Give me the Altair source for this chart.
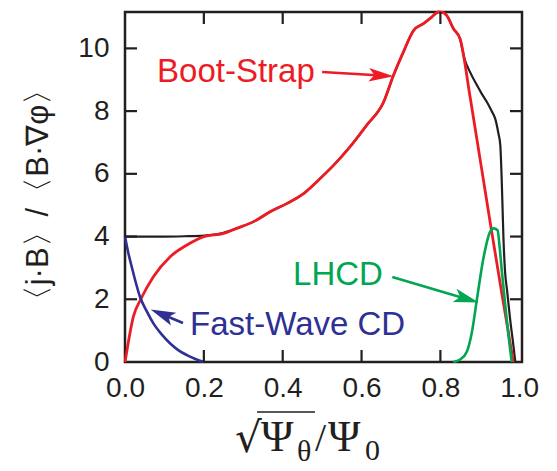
import altair as alt
import pandas as pd

# ---- data ----
total_x = [0.0, 0.05, 0.10, 0.15, 0.20, 0.25, 0.283, 0.33, 0.368, 0.41, 0.453, 0.495, 0.529, 0.57,
           0.613, 0.656, 0.681, 0.706, 0.732, 0.757, 0.778, 0.795, 0.805, 0.816, 0.833, 0.85, 0.86,
           0.875, 0.893, 0.905, 0.918, 0.93, 0.939, 0.947, 0.952, 0.955, 0.957, 0.96, 0.964, 0.969,
           0.973, 0.977, 0.984, 0.99]
total_y = [4.0, 4.0, 4.0, 4.01, 4.03, 4.12, 4.26, 4.5, 4.79, 5.05, 5.37, 5.85, 6.27, 6.85,
           7.55, 8.29, 9.14, 9.88, 10.57, 10.79, 11.0, 11.16, 11.15, 11.05, 10.63, 10.3, 9.72,
           9.25, 8.82, 8.55, 8.29, 8.0, 7.76, 7.3, 6.91, 6.0, 5.2, 3.94, 2.88, 2.3,
           1.82, 1.35, 0.65, 0.0]

boot_x = [0.0, 0.008, 0.021, 0.04, 0.072, 0.114, 0.157, 0.2, 0.25, 0.283, 0.33, 0.368, 0.41,
          0.453, 0.495, 0.529, 0.57, 0.613, 0.656, 0.681, 0.706, 0.732, 0.757, 0.778, 0.795,
          0.805, 0.816, 0.833, 0.85, 0.876, 0.926, 0.955, 0.985]
boot_y = [0.0, 0.6, 1.44, 2.0, 2.72, 3.35, 3.73, 4.0, 4.1, 4.26, 4.5, 4.79, 5.05,
          5.37, 5.85, 6.27, 6.85, 7.55, 8.29, 9.14, 9.88, 10.57, 10.79, 11.0, 11.16,
          11.15, 11.05, 10.63, 10.3, 8.4, 4.47, 2.25, 0.0]

fw_x = [0.0, 0.008, 0.017, 0.027, 0.038, 0.055, 0.072, 0.093, 0.114, 0.135, 0.157, 0.18, 0.2]
fw_y = [4.0, 3.5, 3.04, 2.55, 2.08, 1.62, 1.23, 0.88, 0.6, 0.38, 0.22, 0.09, 0.0]

lh_x = [0.833, 0.85, 0.867, 0.88, 0.893, 0.909, 0.926, 0.935, 0.945, 0.95, 0.956, 0.963, 0.969, 0.975, 0.981]
lh_y = [0.0, 0.08, 0.33, 0.96, 2.03, 3.3, 4.15, 4.26, 4.2, 3.7, 2.88, 2.0, 1.28, 0.6, 0.0]

x_tick_values = [0.0, 0.2, 0.4, 0.6, 0.8, 1.0]
y_tick_values = [0, 2, 4, 6, 8, 10]
x_inner_ticks = [0.2, 0.4, 0.6, 0.8]
y_inner_ticks = [2, 4, 6, 8, 10]

labels = ["Boot-Strap", "Fast-Wave CD", "LHCD"]

# ---- styling ----
W, H = 397, 350
INK = "#231F20"
RED = "#ED1C24"
BLUE = "#2E3192"
GREEN = "#00A651"
SANS = "Liberation Sans"
SERIF = "Liberation Serif"

xs = alt.Scale(domain=[0, 1.007], nice=False, zero=False)
ys = alt.Scale(domain=[0, 11.16], nice=False, zero=False)

xaxis = alt.Axis(values=x_tick_values, format=".1f", labelFontSize=28, labelFont=SANS,
                 labelColor=INK, labelPadding=12, ticks=False, domain=False, grid=False,
                 title="", labelFlush=False)
yaxis = alt.Axis(values=y_tick_values, format="d", labelFontSize=28, labelFont=SANS,
                 labelColor=INK, labelPadding=16, ticks=False, domain=False, grid=False,
                 title="")


def X(f):
    return alt.X(f, scale=xs, axis=xaxis)


def Y(f):
    return alt.Y(f, scale=ys, axis=yaxis)


def curve(xv, yv, color, width):
    df = pd.DataFrame({"x": xv, "y": yv})
    return alt.Chart(df).mark_line(color=color, strokeWidth=width, interpolate="monotone").encode(
        x=X("x:Q"), y=Y("y:Q"))


black = curve(total_x, total_y, INK, 2.2)
red = curve(boot_x, boot_y, RED, 2.8)
blue = curve(fw_x, fw_y, BLUE, 2.6)
green = curve(lh_x, lh_y, GREEN, 2.6)

# inward ticks
xt = pd.DataFrame({"v": x_inner_ticks})
yt = pd.DataFrame({"v": y_inner_ticks})
tick_kw = dict(color=INK, strokeWidth=2.2)
tb = alt.Chart(xt).mark_rule(**tick_kw).encode(x=X("v:Q"), y=alt.value(H), y2=alt.value(H - 12))
tt = alt.Chart(xt).mark_rule(**tick_kw).encode(x=X("v:Q"), y=alt.value(0), y2=alt.value(12))
tl = alt.Chart(yt).mark_rule(**tick_kw).encode(y=Y("v:Q"), x=alt.value(0), x2=alt.value(12))
tr = alt.Chart(yt).mark_rule(**tick_kw).encode(y=Y("v:Q"), x=alt.value(W), x2=alt.value(W - 12))

# annotations (data coordinates)
ann = pd.DataFrame({
    "label": labels,
    "x": [0.0812, 0.165, 0.4264],
    "y": [9.245, 1.18, 2.773],
    "c": [RED, BLUE, GREEN],
})
texts = alt.Chart(ann).mark_text(align="left", baseline="middle", fontSize=33, font=SANS).encode(
    x=X("x:Q"), y=Y("y:Q"), text="label:N", color=alt.Color("c:N", scale=None))

arrows = pd.DataFrame({
    "x": [0.500, 0.147, 0.678],
    "y": [9.245, 1.243, 2.710],
    "x2": [0.650, 0.0942, 0.8666],
    "y2": [9.136, 1.521, 2.011],
    "a": [3.3, 202.8, 16.4],
    "c": [RED, BLUE, GREEN],
})
shafts = alt.Chart(arrows).mark_rule(strokeWidth=2.6).encode(
    x=X("x:Q"), y=Y("y:Q"), x2="x2:Q", y2="y2:Q", color=alt.Color("c:N", scale=None))
heads = alt.Chart(arrows).mark_point(
    shape="M-1,-0.55L1,0L-1,0.55L-0.55,0Z", filled=True, size=620, opacity=1, strokeWidth=0
).encode(x=X("x2:Q"), y=Y("y2:Q"), angle=alt.Angle("a:Q", scale=None),
         color=alt.Color("c:N", scale=None))

# axis titles
one = pd.DataFrame({"k": [0]})
ytitle = alt.Chart(one).mark_text(angle=270, fontSize=31, font=SANS, color=INK,
                                  align="center", baseline="middle").encode(
    x=alt.value(-86), y=alt.value(183), text=alt.value("〈j·B〉/〈B·∇φ〉"))


def piece(txt, x, y, size, font=SERIF):
    return alt.Chart(one).mark_text(fontSize=size, font=font, color=INK, align="left",
                                    baseline="alphabetic").encode(
        x=alt.value(x), y=alt.value(y), text=alt.value(txt))


xt_parts = [
    piece("√", 110, 440, 42, "DejaVu Serif"),
    piece("Ψ", 136, 439, 44),
    piece("θ", 172, 449, 30),
    piece("/", 190, 439, 40),
    piece("Ψ", 203, 439, 44),
    piece("0", 240, 448, 30),
]
overline = alt.Chart(one).mark_rule(color=INK, strokeWidth=1.6).encode(
    x=alt.value(132), x2=alt.value(190), y=alt.value(400))

chart = alt.layer(
    black, red, blue, green, tb, tt, tl, tr, shafts, heads, texts, ytitle, overline, *xt_parts
).properties(
    width=W, height=H,
    autosize=alt.AutoSizeParams(type="none"),
    padding={"left": 117, "top": 4, "right": 27, "bottom": 105},
).configure_view(stroke=INK, strokeWidth=2.5)

chart.save("out.html", embed_options={"renderer": "svg", "actions": False})
